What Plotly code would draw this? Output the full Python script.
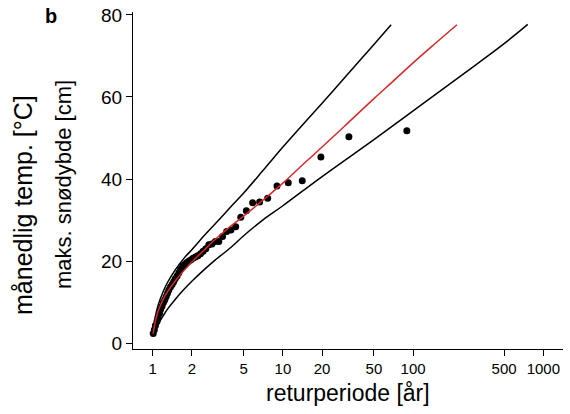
import plotly.graph_objects as go

# Observed annual maxima (return period [years], max snow depth [cm])
obs_T = [89.50, 32.13, 19.58, 14.08, 10.99, 9.01, 7.64, 6.63, 5.86, 5.24,
         4.75, 4.34, 3.99, 3.70, 3.44, 3.22, 3.03, 2.85, 2.70, 2.56,
         2.44, 2.33, 2.22, 2.13, 2.04, 1.96, 1.89, 1.82, 1.76, 1.70,
         1.64, 1.59, 1.54, 1.49, 1.45, 1.41, 1.37, 1.33, 1.30, 1.27,
         1.24, 1.21, 1.18, 1.15, 1.13, 1.10, 1.08, 1.05, 1.03, 1.01]
obs_depth = [51.8, 50.3, 45.4, 39.6, 39.1, 38.3, 35.3, 34.4, 34.2, 32.3,
             30.7, 28.4, 27.6, 27.2, 26.0, 24.8, 24.8, 24.2, 24.0, 23.0,
             22.4, 21.8, 21.3, 21.0, 20.7, 20.3, 20.0, 19.6, 19.2, 18.8,
             18.0, 17.2, 16.4, 15.7, 15.0, 14.3, 13.7, 13.0, 12.2, 11.4,
             10.6, 9.9, 9.0, 8.2, 7.3, 6.3, 5.3, 4.3, 3.3, 2.4]

# Fitted return level curve (red)
fit_T = [1.01, 1.02, 1.04, 1.07, 1.1, 1.15, 1.2, 1.3, 1.4, 1.5, 1.65, 1.8,
         2.0, 2.5, 3.0, 4.0, 5.0, 7.0, 10, 15, 20, 30, 50, 70, 100, 150, 217]
fit_depth = [2.3, 3.3, 4.8, 6.5, 7.8, 9.3, 10.6, 12.5, 14.0, 15.3, 16.9, 18.2,
             19.8, 22.8, 25.2, 28.6, 31.0, 34.8, 39.0, 44.2, 47.8, 53.0, 59.6,
             63.8, 68.3, 73.2, 77.6]

# Upper confidence bound
upper_T = [1.01, 1.05, 1.1, 1.2, 1.3, 1.5, 1.75, 2.0, 2.5, 3.0, 4.0, 5.0,
           7.0, 10, 15, 20, 30, 40, 50, 67.8]
upper_depth = [2.5, 6.5, 9.2, 12.5, 14.8, 18.0, 20.8, 22.8, 26.3, 29.0, 33.3,
               36.6, 42.0, 47.8, 54.1, 58.5, 64.8, 69.3, 72.8, 77.6]

# Lower confidence bound
lower_T = [1.01, 1.05, 1.1, 1.2, 1.3, 1.5, 1.75, 2.0, 2.5, 3.0, 4.0, 5.0,
           7.0, 10, 20, 50, 100, 200, 327, 500, 759]
lower_depth = [2.0, 3.4, 4.6, 6.6, 8.3, 10.8, 13.2, 15.1, 18.0, 20.2, 23.4,
               26.2, 30.0, 33.5, 40.6, 49.6, 56.6, 63.6, 68.6, 73.0, 77.7]

x_ticks = [1, 2, 5, 10, 20, 50, 100, 500, 1000]
y_ticks = [0, 20, 40, 60, 80]

FONT = "Arial, Liberation Sans, sans-serif"

fig = go.Figure()
fig.add_trace(go.Scatter(x=upper_T, y=upper_depth, mode="lines",
                         line=dict(color="black", width=1.5, shape="spline"),
                         showlegend=False, hoverinfo="skip"))
fig.add_trace(go.Scatter(x=lower_T, y=lower_depth, mode="lines",
                         line=dict(color="black", width=1.5, shape="spline"),
                         showlegend=False, hoverinfo="skip"))
fig.add_trace(go.Scatter(x=obs_T, y=obs_depth, mode="markers",
                         marker=dict(color="black", size=7),
                         showlegend=False))
fig.add_trace(go.Scatter(x=fit_T, y=fit_depth, mode="lines",
                         line=dict(color="#d42a2a", width=1.5, shape="spline"),
                         showlegend=False))

W, H = 570, 414
L, R, T, B = 133, 7, 12, 65
pw, ph = W - L - R, H - T - B

def px(xs):
    return (xs - L) / pw

def py(ys):
    return (H - B - ys) / ph

fig.update_layout(
    width=W, height=H,
    margin=dict(l=L, r=R, t=T, b=B, autoexpand=False),
    plot_bgcolor="white", paper_bgcolor="white",
    font=dict(family=FONT, color="black"),
    xaxis=dict(type="log", range=[-0.151, 3.151], tickvals=x_ticks,
               ticktext=[str(v) for v in x_ticks], automargin=False,
               ticklabeloverflow="allow",
               ticks="outside", ticklen=6, tickwidth=1, tickcolor="black",
               showline=True, linecolor="black", linewidth=1,
               showgrid=False, zeroline=False,
               tickfont=dict(size=15, family=FONT, color="black")),
    yaxis=dict(range=[-1.4, 80.7], tickvals=y_ticks, automargin=False,
               ticklabeloverflow="allow",
               ticks="outside", ticklen=6, tickwidth=1, tickcolor="black",
               showline=True, linecolor="black", linewidth=1,
               showgrid=False, zeroline=False,
               tickfont=dict(size=19, family=FONT, color="black")),
    annotations=[
        dict(text="returperiode [år]", x=px(348), y=py(393), xref="paper", yref="paper",
             xanchor="center", yanchor="middle", showarrow=False,
             font=dict(size=23, family=FONT)),
        dict(text="månedlig temp. [°C]", x=px(23), y=py(205), xref="paper", yref="paper",
             xanchor="center", yanchor="middle", showarrow=False, textangle=-90,
             font=dict(size=25, family=FONT)),
        dict(text="maks. snødybde [cm]", x=px(63), y=py(185), xref="paper", yref="paper",
             xanchor="center", yanchor="middle", showarrow=False, textangle=-90,
             font=dict(size=22, family=FONT)),
        dict(text="<b>b</b>", x=px(51), y=py(16), xref="paper", yref="paper",
             xanchor="center", yanchor="middle", showarrow=False,
             font=dict(size=20, family=FONT)),
    ],
)

fig.write_html("out.html", config={"displayModeBar": False},
               post_script="document.body.style.margin='0';")
